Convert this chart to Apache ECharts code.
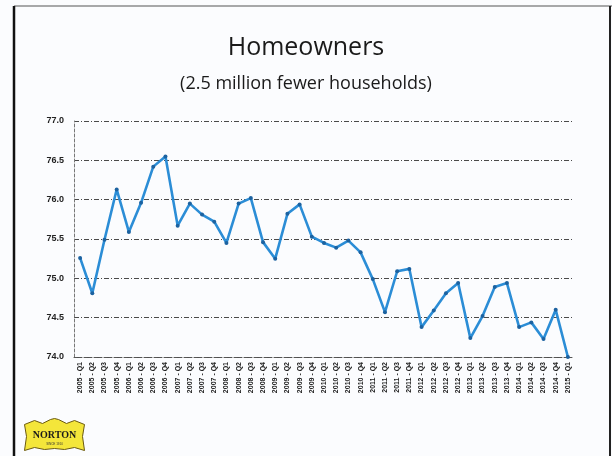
<!DOCTYPE html>
<html>
<head>
<meta charset="utf-8">
<script src="https://cdn.jsdelivr.net/npm/echarts@6/dist/echarts.min.js"></script>
<style>
  html, body { margin: 0; padding: 0; background: #fbfcfe; }
  #chart { width: 612px; height: 456px; }
</style>
</head>
<body>
<div id="chart"></div>
<script>
// Quarterly homeownership rate (%), 2005-Q1 to 2015-Q1
const quarters = [
  '2005 - Q1','2005 - Q2','2005 - Q3','2005 - Q4',
  '2006 - Q1','2006 - Q2','2006 - Q3','2006 - Q4',
  '2007 - Q1','2007 - Q2','2007 - Q3','2007 - Q4',
  '2008 - Q1','2008 - Q2','2008 - Q3','2008 - Q4',
  '2009 - Q1','2009 - Q2','2009 - Q3','2009 - Q4',
  '2010 - Q1','2010 - Q2','2010 - Q3','2010 - Q4',
  '2011 - Q1','2011 - Q2','2011 - Q3','2011 - Q4',
  '2012 - Q1','2012 - Q2','2012 - Q3','2012 - Q4',
  '2013 - Q1','2013 - Q2','2013 - Q3','2013 - Q4',
  '2014 - Q1','2014 - Q2','2014 - Q3','2014 - Q4',
  '2015 - Q1'
];

const ownershipRate = [
  75.26, 74.81, 75.49, 76.13,
  75.59, 75.96, 76.42, 76.55,
  75.67, 75.95, 75.81, 75.72,
  75.45, 75.95, 76.02, 75.46,
  75.25, 75.82, 75.94, 75.53,
  75.45, 75.39, 75.48, 75.33,
  74.99, 74.57, 75.09, 75.12,
  74.38, 74.59, 74.81, 74.94,
  74.24, 74.52, 74.89, 74.94,
  74.38, 74.44, 74.23, 74.60,
  74.00
];

const yMin = 74.0, yMax = 77.0, yStep = 0.5;

const chart = echarts.init(document.getElementById('chart'), null, { renderer: 'canvas' });

const dashedGrid = { color: '#4a4a4a', width: 1, type: [5, 2, 1, 2] };

chart.setOption({
  backgroundColor: '#fbfcfe',
  animation: false,
  title: [
    {
      text: 'Homeowners',
      left: 'center',
      top: 30,
      textStyle: { fontFamily: 'Open Sans', fontWeight: 'normal', fontSize: 25, color: '#1a1a1a' }
    },
    {
      text: '(2.5 million fewer households)',
      left: 'center',
      top: 70,
      textStyle: { fontFamily: 'Open Sans', fontWeight: 'normal', fontSize: 18, color: '#1a1a1a' }
    }
  ],
  grid: { left: 74, right: 38, top: 121, bottom: 99, containLabel: false },
  xAxis: {
    type: 'category',
    data: quarters,
    boundaryGap: true,
    axisLine: { show: true, lineStyle: { color: '#555', width: 1, type: [3, 2] } },
    axisTick: { show: false },
    axisLabel: {
      interval: 0,
      rotate: 90,
      fontSize: 7,
      fontWeight: 'bold',
      fontFamily: 'Liberation Sans',
      color: '#222',
      margin: 5
    },
    splitLine: { show: false }
  },
  yAxis: {
    type: 'value',
    min: yMin,
    max: yMax,
    interval: yStep,
    axisLine: { show: true, lineStyle: { color: '#777', width: 1, type: [3, 2] } },
    axisTick: { show: false },
    axisLabel: {
      formatter: v => v.toFixed(1),
      fontSize: 9,
      fontWeight: 'bold',
      fontFamily: 'Liberation Sans',
      color: '#222',
      margin: 10
    },
    splitLine: { show: true, lineStyle: dashedGrid }
  },
  series: [{
    type: 'line',
    data: ownershipRate,
    symbol: 'circle',
    symbolSize: 4,
    showAllSymbol: true,
    lineStyle: { color: '#2b8dd6', width: 2.6 },
    itemStyle: { color: '#1c62a0' },
    z: 5
  }],
  graphic: [
    // page frame
    { type: 'line', shape: { x1: 14, y1: 6, x2: 612, y2: 6 }, style: { stroke: '#555', lineWidth: 1.2 } },
    { type: 'line', shape: { x1: 14, y1: 6, x2: 14, y2: 456 }, style: { stroke: '#111', lineWidth: 2.5 } },
    { type: 'line', shape: { x1: 610, y1: 6, x2: 610, y2: 456 }, style: { stroke: '#222', lineWidth: 2 } },
    // company badge
    {
      type: 'group',
      left: 24,
      top: 418,
      children: [
        {
          type: 'polygon',
          shape: {
            points: [[0, 6], [10, 2], [18, 5], [26, 1], [30, 0], [34, 1], [42, 5], [50, 2], [60, 6],
                     [58, 18], [60, 32], [50, 29], [40, 31], [30, 30], [20, 31], [10, 29], [0, 32], [2, 18]]
          },
          style: { fill: '#f4e63a', stroke: '#6b5a10', lineWidth: 1 }
        },
        {
          type: 'text',
          x: 30, y: 17,
          style: {
            text: 'NORTON', fill: '#1a1a1a', font: 'bold 10px "Liberation Serif"',
            align: 'center', verticalAlign: 'middle'
          }
        },
        {
          type: 'text',
          x: 30, y: 26,
          style: {
            text: 'SINCE 1910', fill: '#333', font: '3px "Liberation Sans"',
            align: 'center', verticalAlign: 'middle'
          }
        }
      ]
    }
  ]
});
</script>
</body>
</html>
